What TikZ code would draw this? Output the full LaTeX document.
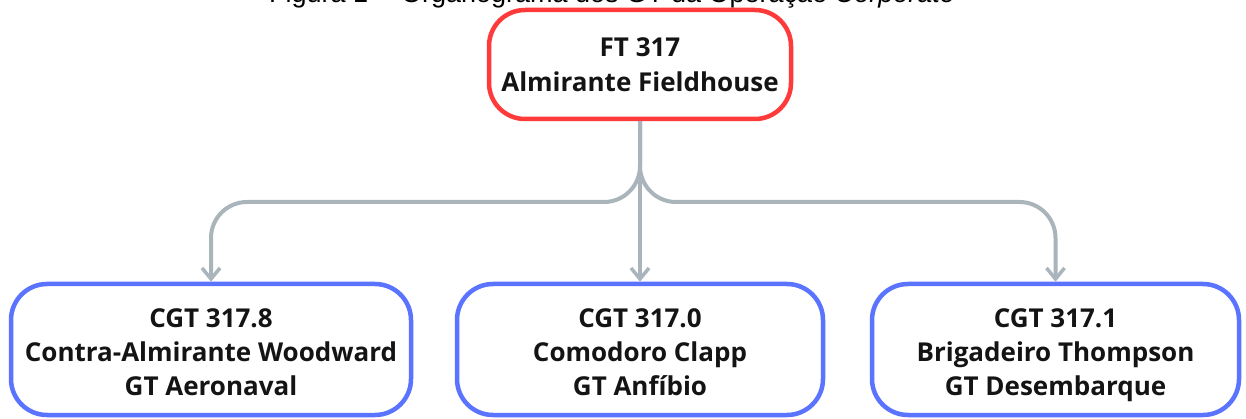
\documentclass[tikz,border=0pt]{standalone}
\usepackage{fontspec}
\setmainfont{Open Sans}
\newfontfamily\titlefont{Liberation Sans}
\usetikzlibrary{arrows.meta}
\definecolor{topred}{HTML}{FF3A3A}
\definecolor{boxblue}{HTML}{5A74FF}
\definecolor{conngray}{HTML}{A9B4BB}
\definecolor{txt}{HTML}{141414}
\newcommand\bxTopA{\rule{0pt}{20pt}}
\newcommand\bxBotA{\rule[0pt]{0pt}{1pt}}
\newcommand\bxTopB{\rule{0pt}{30pt}}
\newcommand\bxBotB{\rule[-6pt]{0pt}{6pt}}
\tikzset{
  orgbox/.style={draw, line width=4.5pt, rounded corners=36pt, fill=white,
    align=center, text=txt, inner sep=0pt},
  topbox/.style={orgbox, draw=topred, minimum width=302pt, minimum height=109pt,
    font=\bfseries\fontsize{26}{35}\selectfont},
  subbox/.style={orgbox, draw=boxblue, minimum height=131pt,
    font=\bfseries\fontsize{26}{34}\selectfont},
  conn/.style={draw=conngray, line width=4pt, rounded corners=36pt,
    -{Straight Barb[length=11pt,width=18pt,line width=3.5pt]}}
}
\begin{document}
\begin{tikzpicture}[x=1pt,y=-1pt]
\useasboundingbox (0,0) rectangle (1246,419);
\clip (0,0) rectangle (1246,419);
\fill[white] (0,0) rectangle (1246,419);
\node[anchor=base, font=\titlefont\fontsize{27}{30}\selectfont, text=black] (title) at (612,3)
  {Figura 1 -- Organograma dos GT da Operação \textit{Corporate}};
\node[topbox] (top) at (640,64.5) {\bxTopA FT 317\\Almirante Fieldhouse\bxBotA};
\node[subbox, minimum width=400pt] (left) at (211,349.5) {\bxTopB CGT 317.8\\Contra-Almirante Woodward\\GT Aeronaval\bxBotB};
\node[subbox, minimum width=366pt] (mid) at (640,349.5) {\bxTopB CGT 317.0\\Comodoro Clapp\\GT Anfíbio\bxBotB};
\node[subbox, minimum width=367pt] (right) at (1055.5,349.5) {\bxTopB CGT 317.1\\Brigadeiro Thompson\\GT Desembarque\bxBotB};
\coordinate (hub) at (640,202);
\draw[conn] (top.south) -- (hub) -| (left.north);
\draw[conn] (top.south) -- (hub) -| (right.north);
\draw[conn, rounded corners=0pt] (top.south) -- (mid.north);
\end{tikzpicture}
\end{document}
